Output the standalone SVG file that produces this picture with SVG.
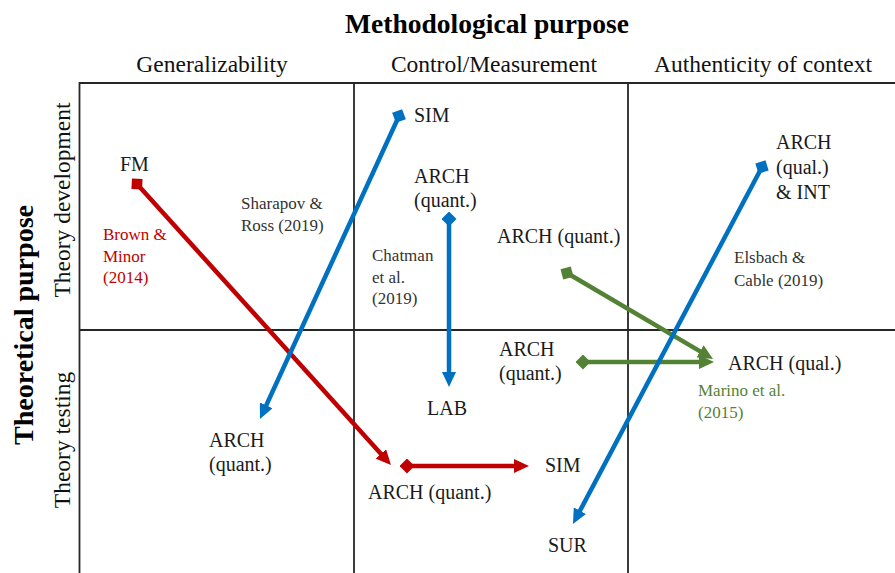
<svg xmlns="http://www.w3.org/2000/svg" width="895" height="573" viewBox="0 0 895 573">
<style>
  text { font-family: "Liberation Serif", "Times New Roman", serif; }
  .hdr { font-size: 23.5px; fill: #111; text-anchor: middle; }
  .ttl { font-size: 27px; font-weight: bold; fill: #000; text-anchor: middle; }
  .lbl { font-size: 20px; fill: #1a1a1a; }
  .ref { font-size: 17px; fill: #333; }
  .refR { font-size: 17px; fill: #C00000; }
  .refG { font-size: 17px; fill: #548235; }
  .grid { stroke: #262626; stroke-width: 1.8; fill: none; }
  .cR { stroke: #C00000; stroke-width: 4.5; fill: none; }
  .cB { stroke: #0070C0; stroke-width: 4.5; fill: none; }
  .cG { stroke: #548235; stroke-width: 4.5; fill: none; }
</style>
<defs>
  <marker id="aR" markerUnits="userSpaceOnUse" viewBox="0 0 15 14" markerWidth="15" markerHeight="14" refX="7" refY="7" orient="auto"><path d="M0,0 L15,7 L0,14 z" fill="#C00000"/></marker>
  <marker id="aB" markerUnits="userSpaceOnUse" viewBox="0 0 15 14" markerWidth="15" markerHeight="14" refX="7" refY="7" orient="auto"><path d="M0,0 L15,7 L0,14 z" fill="#0070C0"/></marker>
  <marker id="aG" markerUnits="userSpaceOnUse" viewBox="0 0 15 14" markerWidth="15" markerHeight="14" refX="7" refY="7" orient="auto"><path d="M0,0 L15,7 L0,14 z" fill="#548235"/></marker>
  <marker id="dR" markerUnits="userSpaceOnUse" viewBox="0 0 15 15" markerWidth="15" markerHeight="15" refX="7.5" refY="7.5" orient="auto"><path d="M0,7.5 L7.5,0 L15,7.5 L7.5,15 z" fill="#C00000"/></marker>
  <marker id="dB" markerUnits="userSpaceOnUse" viewBox="0 0 15 15" markerWidth="15" markerHeight="15" refX="7.5" refY="7.5" orient="auto"><path d="M0,7.5 L7.5,0 L15,7.5 L7.5,15 z" fill="#0070C0"/></marker>
  <marker id="dG" markerUnits="userSpaceOnUse" viewBox="0 0 15 15" markerWidth="15" markerHeight="15" refX="7.5" refY="7.5" orient="auto"><path d="M0,7.5 L7.5,0 L15,7.5 L7.5,15 z" fill="#548235"/></marker>
</defs>
<rect width="895" height="573" fill="#fff"/>

<g id="axes">
  <text class="ttl" x="487" y="33" textLength="284" lengthAdjust="spacingAndGlyphs">Methodological purpose</text>
  <text class="hdr" x="212" y="72">Generalizability</text>
  <text class="hdr" x="494" y="72">Control/Measurement</text>
  <text class="hdr" x="763" y="72">Authenticity of context</text>
  <text class="ttl" transform="translate(33,325) rotate(-90)" x="0" y="0" textLength="240" lengthAdjust="spacingAndGlyphs">Theoretical  purpose</text>
  <text class="hdr" transform="translate(70,200) rotate(-90)" x="0" y="0">Theory development</text>
  <text class="hdr" transform="translate(70,440) rotate(-90)" x="0" y="0">Theory testing</text>
</g>

<g id="grid">
  <path class="grid" d="M79.5,573 V83 H895"/>
  <path class="grid" d="M354,83 V573 M628,83 V573 M79.5,330 H895"/>
</g>

<g id="connectors">
  <line class="cR" x1="137" y1="184" x2="385.6" y2="459.1" marker-start="url(#dR)" marker-end="url(#aR)"/>
  <line class="cB" x1="399" y1="116" x2="263.3" y2="411.7" marker-start="url(#dB)" marker-end="url(#aB)"/>
  <line class="cB" x1="449" y1="219" x2="449" y2="379" marker-start="url(#dB)" marker-end="url(#aB)"/>
  <line class="cG" x1="567" y1="273" x2="706.1" y2="354.9" marker-start="url(#dG)" marker-end="url(#aG)"/>
  <line class="cG" x1="583" y1="362" x2="706" y2="362" marker-start="url(#dG)" marker-end="url(#aG)"/>
  <line class="cB" x1="762" y1="167" x2="576.7" y2="516.9" marker-start="url(#dB)" marker-end="url(#aB)"/>
  <line class="cR" x1="407" y1="466" x2="521" y2="466" marker-start="url(#dR)" marker-end="url(#aR)"/>
</g>

<g id="node-fm"><text class="lbl" x="120" y="171">FM</text></g>
<g id="ref-brown"><text class="refR" x="103" y="240">Brown &amp;</text><text class="refR" x="103" y="262">Minor</text><text class="refR" x="103" y="283">(2014)</text></g>
<g id="ref-sharapov"><text class="ref" x="241" y="209">Sharapov &amp;</text><text class="ref" x="241" y="231">Ross (2019)</text></g>
<g id="node-sim-top"><text class="lbl" x="414" y="122">SIM</text></g>
<g id="node-arch-quant-ctrl"><text class="lbl" x="414" y="183">ARCH</text><text class="lbl" x="414" y="207">(quant.)</text></g>
<g id="ref-chatman"><text class="ref" x="372" y="261">Chatman</text><text class="ref" x="372" y="283">et al.</text><text class="ref" x="372" y="304">(2019)</text></g>
<g id="node-arch-quant-dev"><text class="lbl" x="497" y="243">ARCH (quant.)</text></g>
<g id="node-arch-qual-int"><text class="lbl" x="776" y="149">ARCH</text><text class="lbl" x="776" y="174">(qual.)</text><text class="lbl" x="776" y="199">&amp; INT</text></g>
<g id="ref-elsbach"><text class="ref" x="734" y="263">Elsbach &amp;</text><text class="ref" x="734" y="286">Cable (2019)</text></g>
<g id="node-arch-quant-test"><text class="lbl" x="499" y="356">ARCH</text><text class="lbl" x="499" y="380">(quant.)</text></g>
<g id="node-arch-qual"><text class="lbl" x="728" y="370">ARCH (qual.)</text></g>
<g id="ref-marino"><text class="refG" x="698" y="396">Marino et al.</text><text class="refG" x="698" y="418">(2015)</text></g>
<g id="node-lab"><text class="lbl" x="427" y="415">LAB</text></g>
<g id="node-arch-quant-gen"><text class="lbl" x="209" y="447">ARCH</text><text class="lbl" x="209" y="471">(quant.)</text></g>
<g id="node-sim-low"><text class="lbl" x="545" y="472">SIM</text></g>
<g id="node-arch-quant-low"><text class="lbl" x="368" y="499">ARCH (quant.)</text></g>
<g id="node-sur"><text class="lbl" x="548" y="552">SUR</text></g>
</svg>
